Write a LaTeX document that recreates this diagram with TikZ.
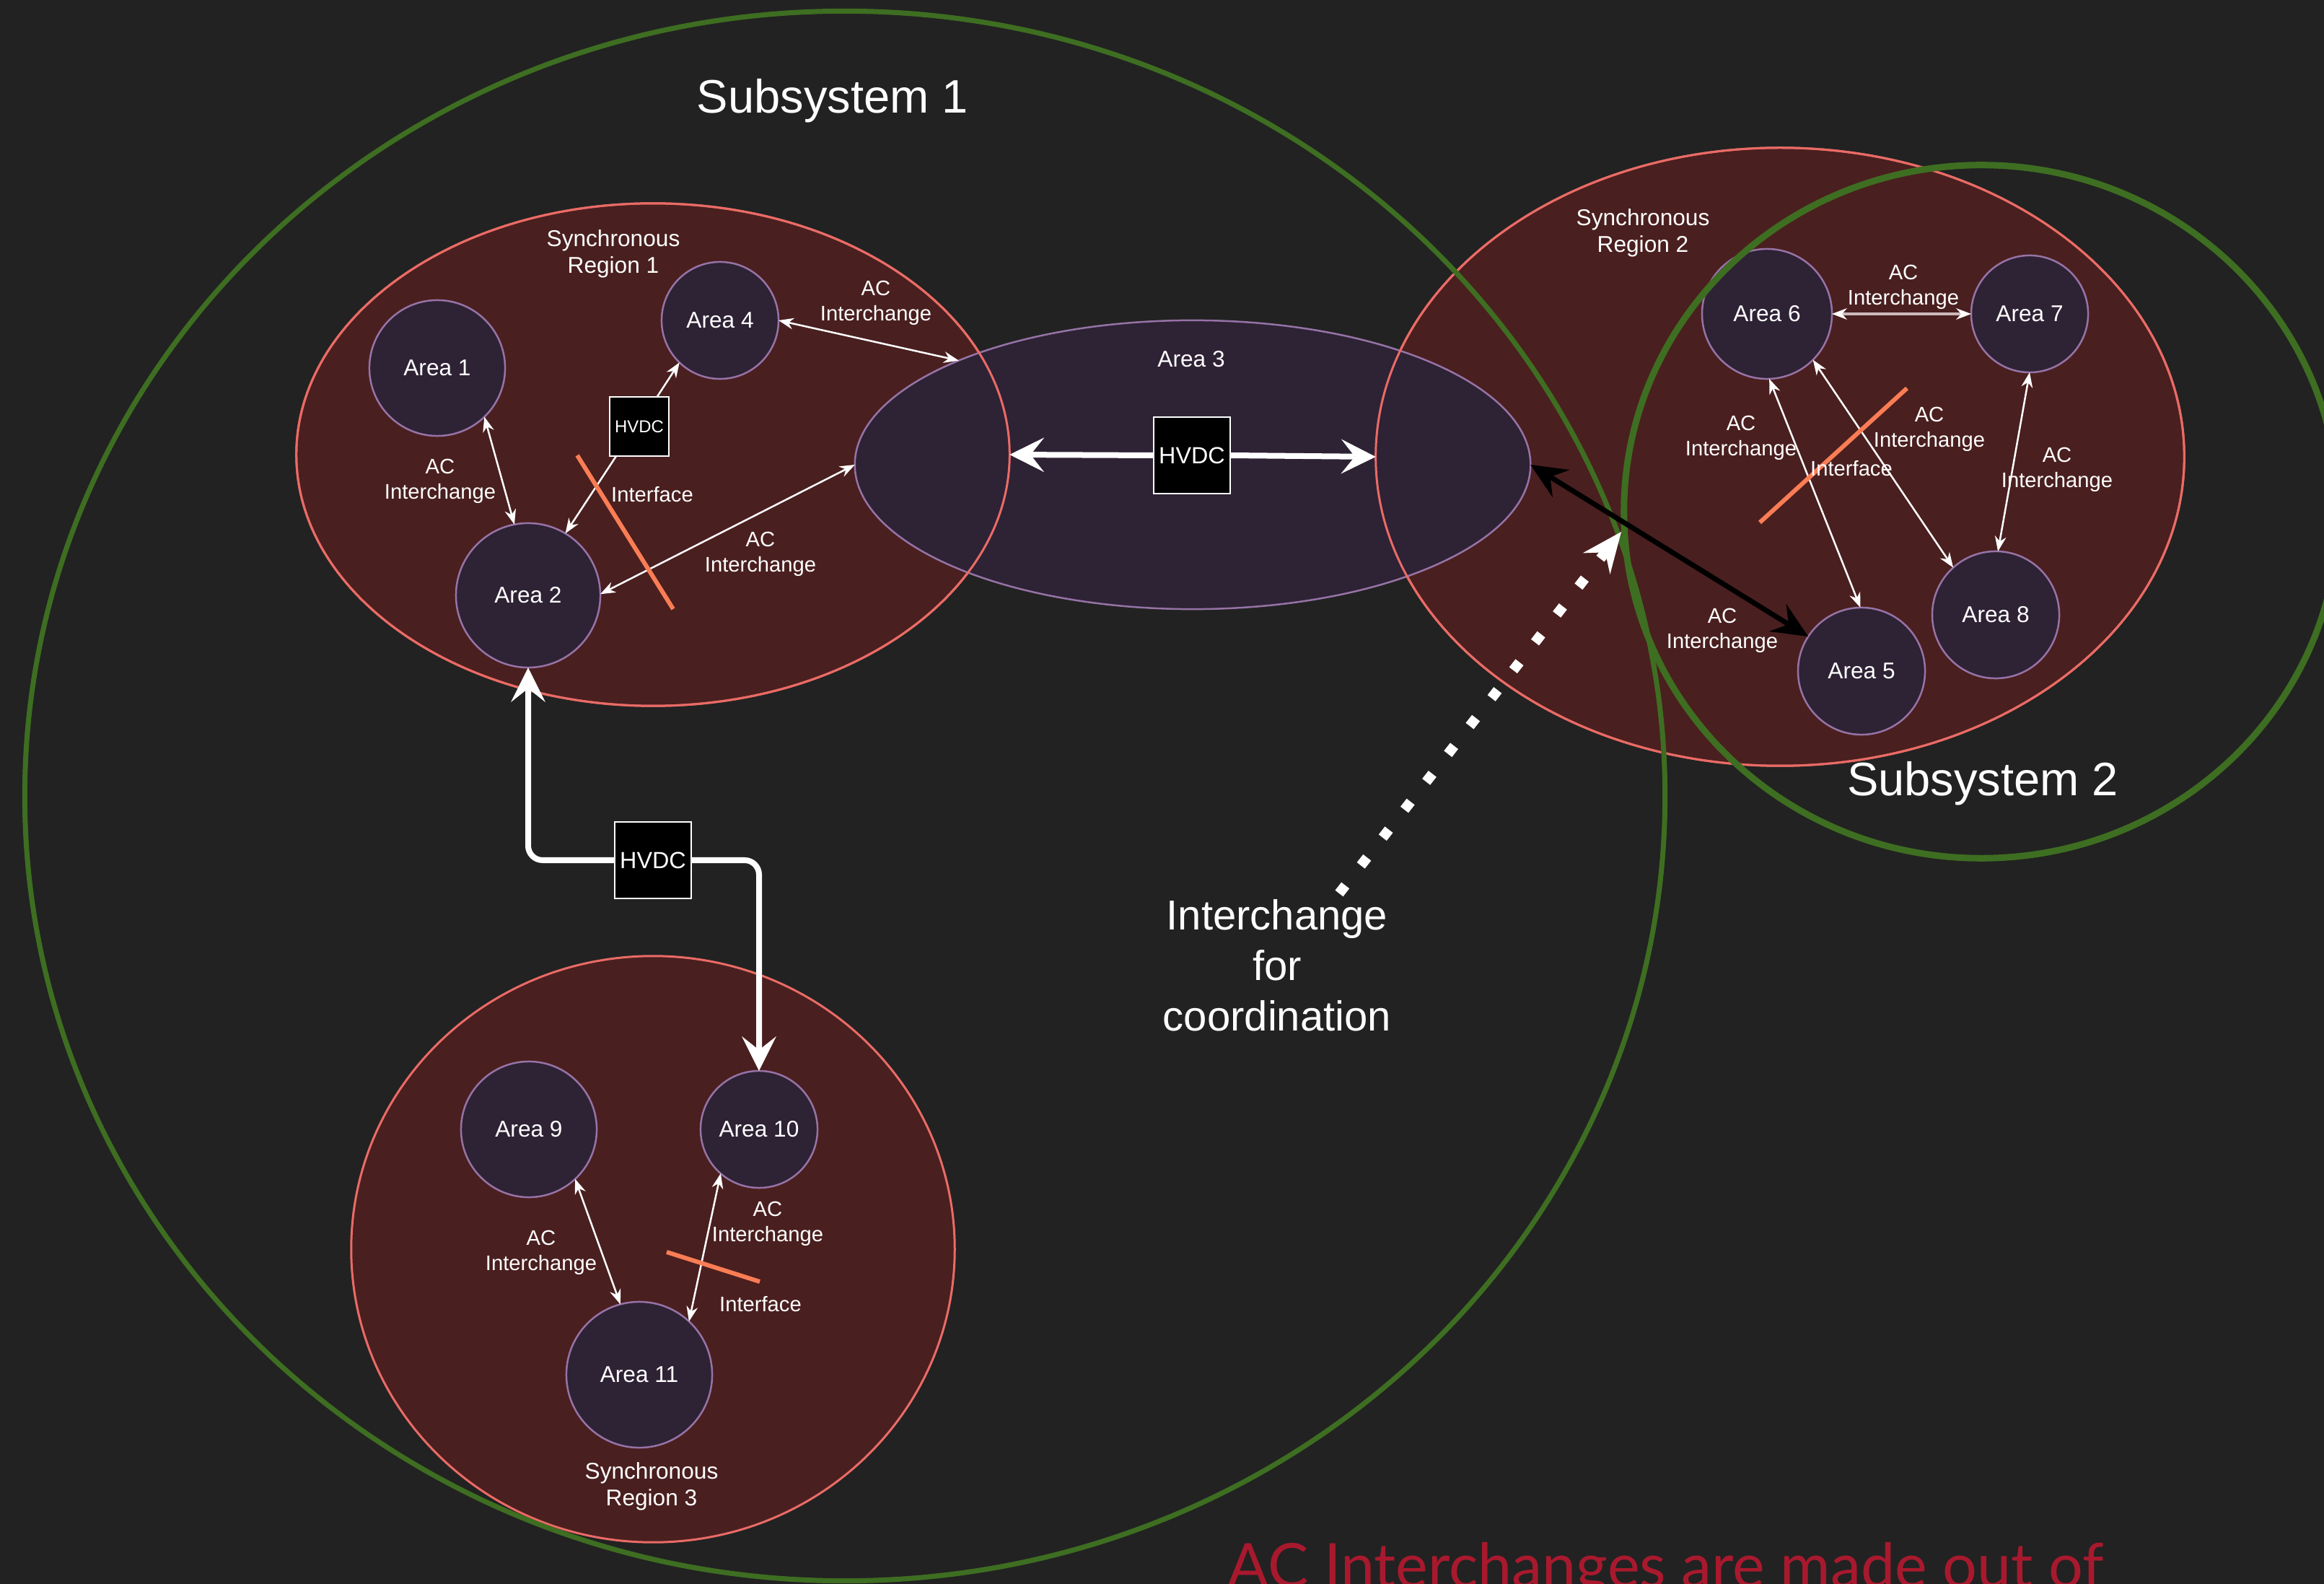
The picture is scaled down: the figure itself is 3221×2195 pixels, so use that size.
\documentclass[tikz,border=0pt]{standalone}
\usepackage{fontspec}
\setmainfont{Liberation Sans}
\newfontfamily\notefont{Lato}
\usetikzlibrary{shapes.geometric,arrows.meta}

\definecolor{bg}{HTML}{222222}
\definecolor{regfill}{HTML}{4A1F1F}
\definecolor{regline}{HTML}{EA6B66}
\definecolor{areafill}{HTML}{2E2235}
\definecolor{arealine}{HTML}{9673A6}
\definecolor{subline}{HTML}{3E6E21}
\definecolor{ifaceline}{HTML}{FA7D55}
\definecolor{notered}{HTML}{A8192E}
\definecolor{greylink}{RGB}{205,185,185}

\tikzset{
  acTip/.tip={Stealth[length=0.21cm,width=0.16cm,inset=0.07cm,line width=0pt]},
  acTipW/.tip={Stealth[length=0.21cm,width=0.16cm,inset=0.07cm,line width=0pt,color=white]},
  bigTip/.tip={Stealth[length=0.48cm,width=0.48cm,inset=0.19cm,line width=0pt]},
  blkTip/.tip={Stealth[length=0.5cm,width=0.45cm,inset=0.18cm,line width=0pt]},
  dotTip/.tip={Stealth[length=0.56cm,width=0.48cm,inset=0.2cm,line width=0pt]},
}

\begin{document}
\begin{tikzpicture}[x=0.01cm, y=-0.01cm,
  region/.style={ellipse, fill=regfill, draw=regline, line width=0.03cm, inner sep=0pt, outer sep=0pt},
  area/.style={ellipse, fill=areafill, draw=arealine, line width=0.025cm, inner sep=0pt, outer sep=0pt,
               text=white, font=\fontsize{9}{11}\selectfont},
  subsys/.style={ellipse, draw=subline, inner sep=0pt, outer sep=0pt},
  hvdcbox/.style={rectangle, fill=black, draw=white, line width=0.02cm, inner sep=0pt, outer sep=0pt,
                  text=white, minimum size=1.06cm, font=\fontsize{9.2}{11}\selectfont},
  lbl/.style={text=white, align=center, inner sep=0pt},
  aclbl/.style={lbl, font=\fontsize{8.3}{10}\selectfont},
  reglbl/.style={lbl, font=\fontsize{9}{10.5}\selectfont},
  biglbl/.style={lbl, font=\fontsize{18.5}{22}\selectfont},
  acarrow/.style={draw=white, line width=0.025cm, acTip-acTip},
  dclink/.style={draw=white, line width=0.025cm, -acTip},
  bigdc/.style={draw=white, line width=0.08cm, -bigTip},
  iface/.style={draw=ifaceline, line width=0.06cm},
]
\useasboundingbox (0,0) rectangle (3221,2195);
\clip (0,0) rectangle (3221,2195);
\fill[bg] (0,0) rectangle (3221,2195);

% synchronous regions
\node[region, minimum width=9.88cm, minimum height=6.96cm] (r1) at (905,630) {};
\node[region, minimum width=11.2cm, minimum height=8.56cm] (r2) at (2467,633) {};
\node[region, minimum width=8.36cm, minimum height=8.12cm] (r3) at (905,1731) {};

% area 3 spans regions 1 and 2
\node[area, minimum width=9.36cm, minimum height=4cm] (a3) at (1653,644) {};
\draw[regline, line width=0.03cm] (r1.center) ellipse [x radius=4.94cm, y radius=3.48cm];
\draw[regline, line width=0.03cm] (r2.center) ellipse [x radius=5.6cm, y radius=4.28cm];
\node[lbl, font=\fontsize{9}{11}\selectfont] (a3lbl) at (1651,498) {Area 3};

% areas
\node[area, minimum size=1.88cm] (a1) at (606,510) {Area 1};
\node[area, minimum size=1.62cm] (a4) at (998,444) {Area 4};
\node[area, minimum size=2.0cm] (a2) at (732,825) {Area 2};
\node[area, minimum size=1.80cm] (a6) at (2449,435) {Area 6};
\node[area, minimum size=1.62cm] (a7) at (2813,435) {Area 7};
\node[area, minimum size=1.76cm] (a8) at (2766,852) {Area 8};
\node[area, minimum size=1.76cm] (a5) at (2580,930) {Area 5};
\node[area, minimum size=1.88cm] (a9) at (733,1565) {Area 9};
\node[area, minimum size=1.62cm] (a10) at (1052,1565) {Area 10};
\node[area, minimum size=2.02cm] (a11) at (886,1905) {Area 11};

% subsystems
\node[subsys, line width=0.07cm, minimum width=22.72cm, minimum height=21.74cm] (s1) at (1171,1103) {};
\node[subsys, line width=0.09cm, minimum width=9.9cm, minimum height=9.6cm] (s2) at (2746,709) {};

% headings
\node[biglbl] (s1lbl) at (1154,140) {Subsystem 1};
\node[biglbl] (s2lbl) at (2748,1086) {Subsystem 2};
\node[reglbl] (r1lbl) at (850,352) {Synchronous\\Region 1};
\node[reglbl] (r2lbl) at (2277,323) {Synchronous\\Region 2};
\node[reglbl] (r3lbl) at (903,2060) {Synchronous\\Region 3};

% HVDC converters
\node[hvdcbox, minimum width=0.82cm, minimum height=0.81cm, font=\fontsize{6.8}{8}\selectfont] (hv1) at (886,591) {HVDC};
\node[hvdcbox] (hv3) at (1652,631) {HVDC};
\node[hvdcbox] (hv2) at (905,1192) {HVDC};

% AC interchanges
\draw[acarrow] (a1.-46.7) -- (a2.101.9);
\draw[acarrow] (a4.0) -- (a3.156.9);
\draw[acarrow] (a2.1.7) -- (a3.west);
\draw[draw=greylink, line width=0.045cm, acTipW-acTipW] (a6.east) -- (a7.west);
\draw[acarrow] (a6.-88) -- (a5.91.3);
\draw[acarrow] (a6.-45) -- (a8.132.7);
\draw[acarrow] (a7.-90) -- (a8.88.7);
\draw[acarrow] (a9.-47.2) -- (a11.105.6);
\draw[acarrow] (a10.229) -- (a11.47.4);

% HVDC links
\draw[dclink] (hv1.59.7) -- (a4.226);
\draw[dclink] (hv1.232.7) -- (a2.59.4);
\draw[bigdc] (hv3.west) -- (r1.east);
\draw[bigdc] (hv3.east) -- (r2.west);
\draw[bigdc, rounded corners=0.2cm] (hv2.west) -| (a2.south);
\draw[bigdc, rounded corners=0.2cm] (hv2.east) -| (a10.north);

% interfaces
\draw[iface] (800,631) -- (933,844);
\draw[iface] (2643,538) -- (2439,724);
\draw[iface] (924,1735) -- (1053,1776);
\node[aclbl] (if1) at (904,685) {Interface};
\node[aclbl] (if2) at (2566,649) {Interface};
\node[aclbl] (if3) at (1054,1807) {Interface};

% interchange labels
\node[aclbl] (l1) at (610,667) {AC\\Interchange};
\node[aclbl] (l2) at (1214,420) {AC\\Interchange};
\node[aclbl] (l3) at (1054,768) {AC\\Interchange};
\node[aclbl] (l4) at (2638,398) {AC\\Interchange};
\node[aclbl] (l5) at (2413,607) {AC\\Interchange};
\node[aclbl] (l6) at (2674,595) {AC\\Interchange};
\node[aclbl] (l7) at (2851,651) {AC\\Interchange};
\node[aclbl] (l8) at (2387,874) {AC\\Interchange};
\node[aclbl] (l9) at (750,1736) {AC\\Interchange};
\node[aclbl] (l10) at (1064,1696) {AC\\Interchange};

% interchange between subsystems
\draw[draw=black, line width=0.07cm, blkTip-blkTip] (a3.east) -- (a5.147.9);

\node[lbl, font=\fontsize{16.5}{19.9}\selectfont] (coord) at (1770,1338) {Interchange\\for\\coordination};
\coordinate (cstart) at (1856,1238);
\coordinate (ctip) at (2247,737);
\draw[draw=white, line width=0.14cm, dash pattern=on 0.14cm off 0.35cm, -dotTip] (cstart) -- (ctip);

\node[anchor=base west, inner sep=0pt, text=notered, font=\notefont\fontsize{24}{29}\selectfont] (note) at (1701,2199) {AC Interchanges are made out of};
\end{tikzpicture}
\end{document}
